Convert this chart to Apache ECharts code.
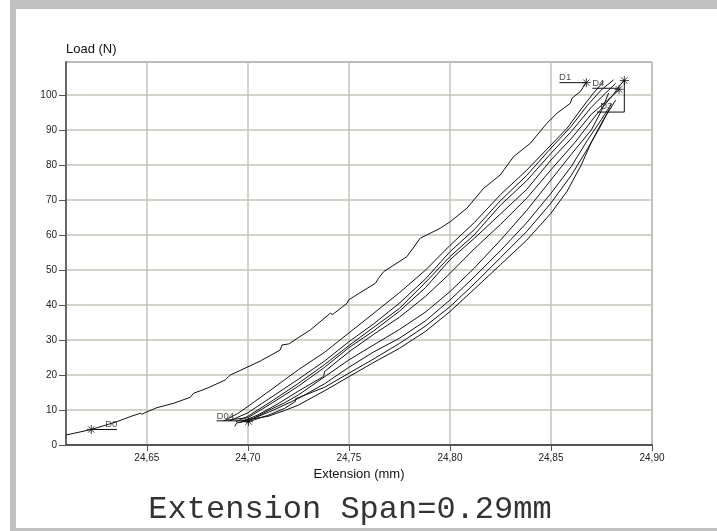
<!DOCTYPE html>
<html>
<head>
<meta charset="utf-8">
<script src="https://cdn.jsdelivr.net/npm/echarts@6/dist/echarts.min.js"></script>
<style>
html,body{margin:0;padding:0;background:#fff;}
#chart{width:717px;height:531px;}
</style>
</head>
<body>
<div id="chart"></div>
<script>
// ---- axis ranges & ticks ----
const xRange = [24.61, 24.90];
const yRange = [0, 109.4];
const xTicks = [24.65, 24.70, 24.75, 24.80, 24.85, 24.90];
const yTicks = [0, 10, 20, 30, 40, 50, 60, 70, 80, 90, 100];

// ---- measured curves (Extension mm, Load N) ----
const curveD0 = [[24.6101,2.86],[24.6225,4.43],[24.6352,6.66],[24.6427,8.29],[24.6468,9.06],[24.6478,8.80],[24.6490,9.20],[24.6550,10.66],[24.6632,11.91],[24.6715,13.63],[24.6731,14.77],[24.6798,16.2],[24.6888,18.57],[24.6913,20.0],[24.6996,22.2],[24.7062,24.0],[24.7160,27.14],[24.7169,28.57],[24.7202,28.86],[24.7309,32.86],[24.7408,37.63],[24.7420,37.3],[24.7491,40.49],[24.7498,41.43],[24.7631,46.2],[24.7647,47.63],[24.7672,49.51],[24.7787,53.8],[24.7853,59.06],[24.7952,61.91],[24.8002,63.8],[24.8084,67.63],[24.8167,73.34],[24.8249,77.14],[24.8315,82.37],[24.8398,86.2],[24.8480,91.91],[24.8530,94.77],[24.8596,97.63],[24.8604,99.06],[24.8645,100.94],[24.8675,103.51]];
const curve1 = [[24.689,7.2],[24.695,9.0],[24.700,11.0],[24.712,16.0],[24.725,21.5],[24.738,26.5],[24.750,32.0],[24.762,37.5],[24.775,43.5],[24.788,50.0],[24.800,57.0],[24.812,63.5],[24.825,71.5],[24.838,78.5],[24.850,85.7],[24.858,90.5],[24.865,96.0],[24.871,100.5],[24.876,103.8]];
const curve2 = [[24.691,6.9],[24.700,9.2],[24.712,13.8],[24.725,18.8],[24.738,24.0],[24.750,29.5],[24.762,34.5],[24.775,40.5],[24.788,47.5],[24.800,55.2],[24.812,61.5],[24.825,69.8],[24.838,77.0],[24.850,84.8],[24.860,91.0],[24.868,97.0],[24.875,101.5],[24.881,104.3]];
const curve3 = [[24.694,6.6],[24.700,8.2],[24.712,12.6],[24.725,17.6],[24.738,23.0],[24.750,28.4],[24.762,33.5],[24.775,39.0],[24.788,46.5],[24.800,53.8],[24.812,60.0],[24.825,68.5],[24.838,75.5],[24.850,83.3],[24.860,89.5],[24.870,96.5],[24.877,100.5],[24.882,103.3]];
const curve4 = [[24.688,7.0],[24.700,7.8],[24.712,12.0],[24.725,16.8],[24.738,22.2],[24.750,27.8],[24.762,32.5],[24.775,38.2],[24.788,45.0],[24.800,52.9],[24.812,59.0],[24.825,66.0],[24.838,73.0],[24.850,81.4],[24.860,87.5],[24.870,94.5],[24.878,98.5],[24.884,101.6]];
const curve5 = [[24.696,6.4],[24.705,8.6],[24.715,11.8],[24.725,15.4],[24.7375,19.6],[24.738,21.0],[24.750,26.6],[24.762,31.5],[24.775,36.5],[24.788,42.5],[24.800,49.0],[24.812,56.0],[24.825,63.0],[24.838,70.5],[24.850,78.6],[24.862,86.5],[24.872,94.0],[24.880,99.5],[24.886,104.1]];
const curve6 = [[24.699,6.5],[24.710,9.8],[24.718,12.0],[24.725,14.3],[24.738,19.5],[24.750,24.3],[24.762,28.5],[24.775,33.0],[24.788,38.0],[24.800,43.8],[24.812,50.5],[24.825,58.5],[24.838,67.0],[24.850,75.7],[24.860,83.0],[24.870,90.0],[24.875,95.5],[24.8785,100.5]];
const curve7 = [[24.6935,5.3],[24.6945,6.3],[24.700,6.9],[24.712,9.8],[24.725,13.3],[24.738,17.5],[24.750,22.2],[24.762,26.5],[24.775,30.5],[24.788,35.5],[24.800,41.4],[24.812,48.0],[24.825,55.5],[24.838,63.5],[24.850,71.9],[24.860,79.5],[24.868,87.0],[24.875,93.0],[24.880,97.5]];
const curve8 = [[24.700,6.6],[24.710,8.5],[24.718,10.4],[24.7235,12.4],[24.7236,13.2],[24.738,16.5],[24.750,20.5],[24.762,24.5],[24.775,29.0],[24.788,34.0],[24.800,39.5],[24.812,46.0],[24.825,53.5],[24.838,61.0],[24.850,69.1],[24.860,77.0],[24.868,84.5],[24.874,90.5],[24.879,96.0]];
const curve9 = [[24.697,7.0],[24.710,8.2],[24.718,9.8],[24.725,11.4],[24.738,15.5],[24.750,19.5],[24.762,23.5],[24.775,27.6],[24.788,32.5],[24.800,38.1],[24.812,44.5],[24.825,51.5],[24.838,58.5],[24.850,66.2],[24.858,72.5],[24.865,80.0],[24.870,86.5],[24.876,93.0],[24.882,98.5]];

// ---- annotation marks ----
const starPoints = [[24.6225,4.43],[24.7003,6.66],[24.8675,103.5],[24.8837,101.6],[24.8863,104.1]];
const leaderD0 = [[24.6225,4.43],[24.6352,4.43]];
const leaderD04 = [[24.6845,6.9],[24.7003,6.9]];
const leaderD1 = [[24.8542,103.5],[24.8675,103.5]];
const leaderD4 = [[24.8705,101.9],[24.8828,101.9]];
const leaderD3 = [[24.8863,104.1],[24.8863,95.1],[24.8728,95.1]];
const labelNames = ['D0','D04','D1','D4','D3'];
const labelX = [24.6324, 24.6888, 24.8570, 24.8734, 24.8774];
const labelY = [6.0, 8.3, 105.1, 103.4, 96.7];

const titleText = 'Extension Span=0.29mm';
const xName = 'Extension (mm)';
const yName = 'Load (N)';

const chart = echarts.init(document.getElementById('chart'), null, {renderer:'canvas'});
const font = "'Liberation Sans', Arial, sans-serif";
const curves = [curveD0, curve1, curve2, curve3, curve4, curve5, curve6, curve7, curve8, curve9];
const leaders = [leaderD0, leaderD04, leaderD1, leaderD4, leaderD3];

const series = [];
curves.forEach(function(c){
  series.push({type:'line', data:c, showSymbol:false, symbol:'none', silent:true,
    lineStyle:{color:'#111', width:1}, z:3});
});
leaders.forEach(function(c){
  series.push({type:'line', data:c, showSymbol:false, symbol:'none', silent:true,
    lineStyle:{color:'#111', width:1}, z:3});
});
series.push({type:'scatter', data:starPoints, silent:true, z:4,
  symbol:'path://M5,0L5,10M0,5L10,5M1.5,1.5L8.5,8.5M8.5,1.5L1.5,8.5',
  symbolSize:9,
  itemStyle:{color:'rgba(0,0,0,0)', borderColor:'#111', borderWidth:1}});
series.push({type:'scatter', silent:true, z:5, symbolSize:1,
  itemStyle:{color:'rgba(0,0,0,0)'},
  data: labelNames.map(function(n,i){ return {value:[labelX[i], labelY[i]], name:n}; }),
  label:{show:true, position:'inside', formatter:'{b}', color:'#222', fontSize:9.5, fontFamily:font}});

const option = {
  backgroundColor:'#fff',
  animation:false,
  grid:{left:66, top:62, width:586, height:383, show:true, borderColor:'#777', borderWidth:1, backgroundColor:'transparent', outerBoundsMode:'none', containLabel:false},
  xAxis:{type:'value', min:xRange[0], max:xRange[1],
    name:xName, nameLocation:'middle', nameGap:18,
    nameTextStyle:{color:'#111', fontSize:13, fontFamily:font, verticalAlign:'top'},
    axisLine:{show:true, onZero:false, lineStyle:{color:'#555', width:2}},
    axisTick:{show:true, length:6, inside:false, customValues:xTicks, lineStyle:{color:'#555', width:1}},
    axisLabel:{show:true, customValues:xTicks, margin:8, color:'#222', fontSize:10, fontFamily:font,
      formatter:function(v){ return v.toFixed(2).replace('.', ','); }},
    splitLine:{show:true, lineStyle:{color:'#c6c3b8', width:1.5}}},
  yAxis:{type:'value', min:yRange[0], max:yRange[1],
    name:yName, nameLocation:'end', nameGap:6,
    nameTextStyle:{color:'#111', fontSize:13, fontFamily:font, align:'left', verticalAlign:'bottom'},
    axisLine:{show:true, onZero:false, lineStyle:{color:'#666', width:2}},
    axisTick:{show:true, length:7, inside:false, customValues:yTicks, lineStyle:{color:'#555', width:1}},
    axisLabel:{show:true, customValues:yTicks, margin:9, color:'#222', fontSize:10, fontFamily:font},
    splitLine:{show:true, lineStyle:{color:'#c6c3b8', width:1.5}}},
  graphic:[
    {type:'rect', shape:{x:10, y:0, width:707, height:9}, style:{fill:'#c0c0c0'}, silent:true},
    {type:'rect', shape:{x:10, y:0, width:6, height:531}, style:{fill:'#c0c0c0'}, silent:true},
    {type:'rect', shape:{x:10, y:528, width:707, height:3}, style:{fill:'#c0c0c0'}, silent:true},
    {type:'text', x:350, y:509.5, silent:true,
      style:{text:titleText, fill:'#333', fontSize:32, fontFamily:"'Liberation Mono','Courier New',monospace",
        textAlign:'center', textVerticalAlign:'middle', align:'center', verticalAlign:'middle'}}
  ],
  series:series
};
chart.setOption(option);
</script>
</body>
</html>
